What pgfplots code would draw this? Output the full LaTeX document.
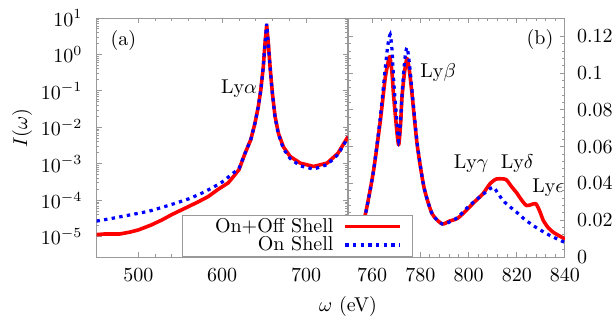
\documentclass[border=0pt]{standalone}
\usepackage{pgfplots}
\pgfplotsset{compat=1.18}
\begin{document}
\begin{tikzpicture}
\useasboundingbox (0,0) rectangle (308pt,161.5pt);
\pgfplotsset{
  common/.style={
    scale only axis, height=119.5pt,
    axis line style={gray!80, line width=0.5pt},
    every tick/.style={gray!80, line width=0.5pt},
    tick align=inside,
    major tick length=2.5pt, minor tick length=1.3pt,
    xticklabel style={yshift=-2.5pt},
  },
  redl/.style={red, line width=1.8pt, line join=round},
  bluel/.style={blue, line width=1.6pt, dash pattern=on 1.7pt off 2.15pt},
}
% ---------- left panel ----------
\begin{axis}[common,
  at={(48.25pt,33pt)}, anchor=south west, width=125.75pt,
  xmin=450, xmax=750, ymode=log, ymin=2.8e-6, ymax=10,
  xtick={500,600,700}, minor x tick num=4,
  ytickten={-5,...,1},
  yticklabel style={xshift=-3.5pt},
  ylabel={$I(\omega)$},
  ylabel style={at={(rel axis cs:-0.296,0.54)}, anchor=center},
]
\addplot[redl] coordinates {
(450,1.15e-5) (460,1.2e-5) (470,1.2e-5) (478,1.2e-5) (490,1.35e-5) (500,1.55e-5)
(515,2.1e-5) (528,2.9e-5) (540,4.1e-5) (555,6.0e-5) (570,8.8e-5) (583,1.26e-4)
(595,2.0e-4) (607,3.0e-4) (615,5.0e-4) (620,7.0e-4) (627,1.9e-3) (634,4.6e-3)
(639,0.013) (643,0.037) (646,0.107) (649,0.47) (651,2.0) (653,6.3) (655,2.0)
(657,0.47) (659.8,0.087) (663,0.02) (667,6.9e-3) (673,2.9e-3) (681,1.6e-3)
(693,1.05e-3) (709,8.5e-4) (725,1.05e-3) (738,1.95e-3) (750,5.6e-3)
};
\addplot[bluel] coordinates {
(450,2.7e-5) (465,3.1e-5) (480,3.6e-5) (495,4.2e-5) (512,5.0e-5) (528,6.4e-5)
(544,8.3e-5) (560,1.1e-4) (575,1.55e-4) (588,2.2e-4) (600,3.2e-4) (610,4.9e-4)
(620,7.5e-4) (627,1.9e-3) (634,4.6e-3)
(639,0.013) (643,0.037) (646,0.107) (649,0.47) (651,2.0) (653,7.0) (655,2.0)
(657,0.47) (659.8,0.085) (663,0.019) (667,6.5e-3) (673,2.6e-3) (681,1.4e-3)
(693,8.8e-4) (709,7.2e-4) (725,9.5e-4) (738,1.8e-3) (750,5.3e-3)
};
\node at (axis cs:620,0.115) {Ly$\alpha$};
\node at (rel axis cs:0.107,0.906) {(a)};
\end{axis}
% ---------- right panel ----------
\begin{axis}[common,
  at={(174pt,33pt)}, anchor=south west, width=108.5pt,
  xmin=750, xmax=840, ymin=0, ymax=0.13,
  xtick={760,780,...,840}, ytick={0,0.02,...,0.12},
  minor x tick num=4, minor y tick num=4,
  yticklabel pos=right, ytick pos=both,
  scaled y ticks=false,
  yticklabel style={xshift=2.5pt, /pgf/number format/fixed},
  xlabel={$\omega$ (eV)},
  xlabel style={at={(rel axis cs:0.0,-0.208)}, anchor=center},
  legend style={at={(rel axis cs:-0.765,0)}, anchor=south west,
    draw=gray!80, fill=white, inner xsep=5pt, inner ysep=1.55pt,
    row sep=0.55pt, column sep=4pt,
    nodes={inner xsep=1pt, inner ysep=0.5pt, text height=6.8pt, text depth=0.8pt}},
  legend cell align=right, legend plot pos=right,
  legend image code/.code={\draw[#1] (0pt,0pt) -- (27.5pt,0pt);},
]
\addplot[redl, smooth, tension=0.4] coordinates {
(750,0.006) (753,0.010) (755.5,0.016) (757.5,0.025) (760.6,0.047) (763.4,0.074)
(765.4,0.097) (766.5,0.105) (767.3,0.109) (768.2,0.101) (768.9,0.088) (770,0.072)
(771,0.061) (771.8,0.072) (772.4,0.087) (773.5,0.101) (774.5,0.108) (775.5,0.101)
(776.6,0.088) (778.7,0.061) (781.5,0.038) (784.9,0.0235) (789,0.018) (792,0.0195)
(795.4,0.021) (799,0.0253) (802.5,0.030) (805.9,0.0343) (809,0.040) (811.5,0.0424)
(814,0.0425) (815.7,0.042) (818,0.038) (819.9,0.035) (822,0.031) (824,0.028)
(826,0.0285) (827.9,0.029) (829.5,0.025) (831,0.0199) (833,0.016) (835.1,0.0135)
(837,0.012) (840,0.0098)
};
\addlegendentry{\hbox to 69.5pt{\hfill On+Off Shell}}
\addplot[bluel, smooth, tension=0.4] coordinates {
(750,0.006) (753,0.010) (755.5,0.016) (757.5,0.025) (760.6,0.047) (763.4,0.076)
(765.4,0.102) (766.5,0.115) (767.5,0.121) (768.3,0.112) (769,0.095) (770.2,0.075)
(771,0.063) (771.8,0.074) (772.6,0.092) (773.6,0.108) (774.5,0.114) (775.5,0.105)
(776.6,0.09) (778.7,0.062) (781.5,0.038) (784.9,0.0235) (789,0.018) (792,0.019)
(795.4,0.0215) (800.4,0.028) (805.9,0.034) (810.1,0.038) (812,0.035) (814.3,0.0307)
(817,0.0275) (819.9,0.0244) (823,0.0208) (826.8,0.0171) (830,0.0145) (833.8,0.0117)
(838.6,0.0087) (840,0.008)
};
\addlegendentry{\hbox to 69.5pt{\hfill On Shell}}
\node at (axis cs:787.4,0.1001) {Ly$\beta$};
\node at (axis cs:801.1,0.0506) {Ly$\gamma$};
\node at (axis cs:820.2,0.0506) {Ly$\delta$};
\node at (axis cs:832.9,0.0379) {Ly$\epsilon$};
\node at (rel axis cs:0.885,0.912) {(b)};
\end{axis}
\end{tikzpicture}
\end{document}
